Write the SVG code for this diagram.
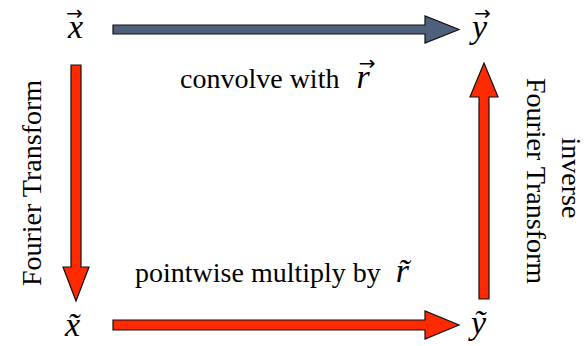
<svg xmlns="http://www.w3.org/2000/svg" width="587" height="346" viewBox="0 0 587 346">
<style>
.lbl{font-family:'Liberation Serif','DejaVu Serif',serif;font-size:28px;fill:#000}
.var{font-family:'Liberation Serif','DejaVu Serif',serif;font-style:italic;font-size:34px;fill:#000}
.arr{font-family:'DejaVu Sans',sans-serif;font-style:normal;font-size:20px}
.blue{fill:#4f607c;stroke:#111;stroke-width:1.2}
.red{fill:#ff2a00;stroke:#111;stroke-width:1.2}
</style>
<rect width="587" height="346" fill="#fff"/>
<g id="connectors">
  <polygon class="blue" points="113,25 425,25 425,16 459,29.5 425,43 425,34 113,34"/>
  <polygon class="red" points="113,320 425,320 425,311 459,325 425,339 425,330 113,330"/>
  <polygon class="red" points="71,65 81,65 81,267 89,267 76,301 63,267 71,267"/>
  <polygon class="red" points="479,299 489,299 489,97 498,97 484,63 470,97 479,97"/>
  <g id="label-convolve">
    <text class="lbl" x="180" y="88">convolve with <tspan class="var" font-size="30" dx="10">r</tspan><tspan class="arr" dx="-11" dy="-18" font-size="17">→</tspan></text>
  </g>
  <g id="label-pointwise">
    <text class="lbl" x="135" y="282">pointwise multiply by <tspan class="var" font-size="30" dx="8">r&#x303;</tspan></text>
  </g>
  <g id="label-ft">
    <text class="lbl" transform="translate(41,183) rotate(-90)" text-anchor="middle" font-size="29">Fourier Transform</text>
  </g>
  <g id="label-ift">
    <text class="lbl" transform="translate(527,181) rotate(90)" text-anchor="middle" font-size="29">Fourier Transform</text>
    <text class="lbl" transform="translate(562,178) rotate(90)" text-anchor="middle" font-size="29">inverse</text>
  </g>
</g>
<g id="node-x">
  <text class="var" x="66" y="38">x<tspan class="arr" dx="-17" dy="-18">→</tspan></text>
</g>
<g id="node-y">
  <text class="var" x="472" y="38">y<tspan class="arr" dx="-13" dy="-18">→</tspan></text>
</g>
<g id="node-xt">
  <text class="var" x="65" y="336">x&#x303;</text>
</g>
<g id="node-yt">
  <text class="var" x="471" y="334">&#x1EF9;</text>
</g>
</svg>
